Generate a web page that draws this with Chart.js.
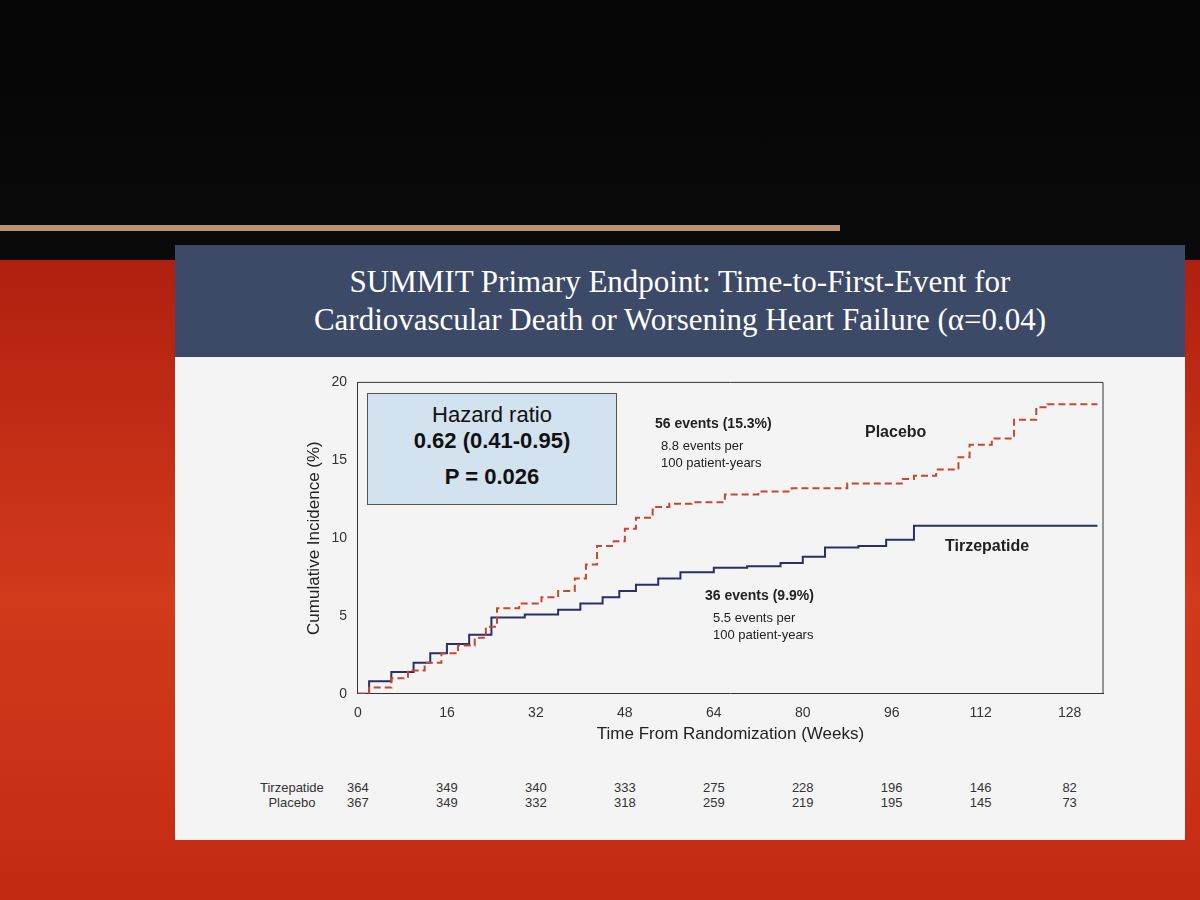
<!DOCTYPE html>
<html><head><meta charset="utf-8">
<script src="https://cdn.jsdelivr.net/npm/chart.js@4"></script>
<style>
body{margin:0;width:1200px;height:900px;overflow:hidden;font-family:"Liberation Sans",Arial,sans-serif;
background:linear-gradient(180deg,#050505 0,#0a0a0a 260px,#b0200f 260px,#d23a1c 600px,#c42a12 900px);}
#slide{position:absolute;left:175px;top:245px;width:1010px;height:595px;background:#f4f4f4;}
#title{position:absolute;left:0;top:0;width:100%;height:112px;background:#3c4a68;color:#fff;
font-family:"Liberation Serif","DejaVu Serif",serif;font-size:31px;text-align:center;line-height:38px;padding-top:18px;box-sizing:border-box;}
#wrap{position:absolute;left:125px;top:126px;width:815px;height:378px;}
.t{position:absolute;color:#222;}
#hr{position:absolute;left:192px;top:148px;width:248px;height:110px;background:#d3e2ef;border:1px solid #555;text-align:center;font-size:22px;color:#111;}
.risk{position:absolute;font-size:13px;color:#333;text-align:center;}
</style></head><body>
<div style="position:absolute;left:0;top:225px;width:840px;height:6px;background:#e8b48c;opacity:.8"></div>
<div id="slide">
<div id="title">SUMMIT Primary Endpoint: Time-to-First-Event for<br>Cardiovascular Death or Worsening Heart Failure (α=0.04)</div>
<div id="wrap"><canvas id="c" width="815" height="378"></canvas></div>
<div id="hr"><div style="margin-top:8px">Hazard ratio</div><div style="font-weight:bold">0.62 (0.41-0.95)</div><div style="font-weight:bold;margin-top:10px">P = 0.026</div></div>
<div class="t" style="left:480px;top:170px;font-size:14px;font-weight:bold">56 events (15.3%)</div>
<div class="t" style="left:486px;top:192px;font-size:13px;line-height:17px">8.8 events per<br>100 patient-years</div>
<div class="t" style="left:690px;top:178px;font-size:16px;font-weight:bold">Placebo</div>
<div class="t" style="left:770px;top:292px;font-size:16px;font-weight:bold">Tirzepatide</div>
<div class="t" style="left:530px;top:342px;font-size:14px;font-weight:bold">36 events (9.9%)</div>
<div class="t" style="left:538px;top:364px;font-size:13px;line-height:17px">5.5 events per<br>100 patient-years</div>
<div class="risk" style="left:85px;top:535px;line-height:15px">Tirzepatide<br>Placebo</div>
<div id="risk"></div>
</div>
<script>
const weeks=[0,16,32,48,64,80,96,112,128];
const riskTirz=[364,349,340,333,275,228,196,146,82];
const riskPlac=[367,349,332,318,259,219,195,145,73];
const placeboX=[0,2,6,9,12,15,18,21,23,25,29,33,36,39,41,43,46,48,50,53,56,60,66,72,78,88,98,100,104,108,110,114,118,122,124,133];
const placeboY=[0,0.4,1,1.5,2,2.6,3.1,3.6,4.3,5.5,5.8,6.2,6.6,7.4,8.3,9.5,9.8,10.6,11.3,12,12.2,12.3,12.8,13,13.2,13.5,13.8,14,14.4,15.2,16,16.4,17.6,18.4,18.6,18.6];
const tirzX=[0,2,6,10,13,16,20,24,30,36,40,44,47,50,54,58,64,70,76,80,84,90,95,100,133];
const tirzY=[0,0.8,1.4,2,2.6,3.2,3.8,4.9,5.1,5.4,5.8,6.2,6.6,7,7.4,7.8,8.1,8.2,8.4,8.8,9.4,9.5,9.9,10.8,10.8];
const toPts=(x,y)=>x.map((v,i)=>({x:v,y:y[i]}));
new Chart(document.getElementById('c'),{type:'line',
data:{datasets:[
{label:'Placebo',data:toPts(placeboX,placeboY),stepped:true,borderColor:'#c8472e',borderDash:[7,4],borderWidth:2,pointRadius:0},
{label:'Tirzepatide',data:toPts(tirzX,tirzY),stepped:true,borderColor:'#2a2f66',borderWidth:2,pointRadius:0}]},
options:{responsive:false,animation:false,maintainAspectRatio:false,
layout:{padding:{right:12,top:6}},
plugins:{legend:{display:false},tooltip:{enabled:false}},
scales:{
x:{type:'linear',min:0,max:134,border:{color:'#333'},grid:{display:false},
 afterBuildTicks:a=>{a.ticks=weeks.map(v=>({value:v}));},
 ticks:{color:'#333',font:{size:14},maxRotation:0},title:{display:true,text:'Time From Randomization (Weeks)',color:'#222',font:{size:17},padding:{top:0}}},
y:{min:0,max:20,border:{color:'#333'},grid:{display:false},ticks:{stepSize:5,color:'#333',font:{size:14}},
 title:{display:true,text:'Cumulative Incidence (%)',color:'#222',font:{size:17}}},
}},
plugins:[{id:'box',afterDraw(c){const a=c.chartArea,x=c.ctx;x.save();x.strokeStyle='#333';x.lineWidth=1;
x.beginPath();x.moveTo(a.left,a.top);x.lineTo(a.right,a.top);x.lineTo(a.right,a.bottom);x.stroke();x.restore();
const s=c.scales.x,r=document.getElementById('risk');let h='';
weeks.forEach((w,i)=>{const px=s.getPixelForValue(w)+125;h+=`<div class="risk" style="left:${px-15}px;width:30px;top:535px;line-height:15px">${riskTirz[i]}<br>${riskPlac[i]}</div>`;});
r.innerHTML=h;}}]
});
</script>
</body></html>
